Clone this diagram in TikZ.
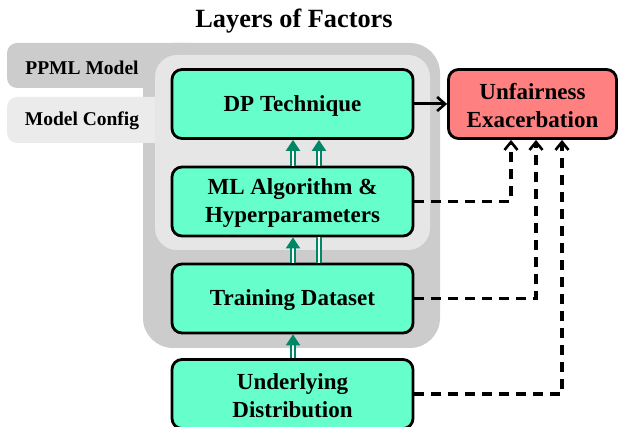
\documentclass[tikz,border=0pt]{standalone}
\usepackage{fontspec}
\setmainfont{Liberation Serif}
\usetikzlibrary{arrows.meta}
\definecolor{boxgreen}{RGB}{102,255,204}
\definecolor{boxred}{RGB}{255,128,128}
\definecolor{darkgray}{RGB}{204,204,204}
\definecolor{lightgray}{RGB}{230,230,230}
\definecolor{tabgray}{RGB}{235,235,235}
\definecolor{arrowgreen}{RGB}{0,136,102}
\begin{document}
\begin{tikzpicture}[x=1pt,y=-1pt,
  factor/.style={draw=black,line width=2.8pt,rounded corners=10pt,fill=boxgreen,minimum width=241pt,minimum height=69pt,inner sep=0pt},
  boxtext/.style={align=center,font=\fontsize{23}{28}\selectfont\bfseries,inner sep=0pt,yshift=-2pt},
  outcome/.style={factor,fill=boxred,minimum width=168pt},
  dbl/.style={double=white,double distance=2pt,line width=2pt,draw=arrowgreen},
  dblarrow/.style={dbl,-{Triangle[length=11pt,width=14pt,fill=arrowgreen]}},
  dashlink/.style={line width=3.2pt,dash pattern=on 10pt off 7pt,-{Straight Barb[length=8pt,width=13pt,line width=2.6pt]}},
  tablabel/.style={font=\fontsize{19.5}{23}\selectfont\bfseries}]
\useasboundingbox (0,0) rectangle (621,427);
% dark gray layer
\fill[darkgray,rounded corners=10pt] (7,43) rectangle (200,88);
\fill[darkgray,rounded corners=30pt] (143,43) rectangle (440,348);
% light gray layer
\fill[tabgray,rounded corners=10pt] (7,97) rectangle (200,143);
\fill[lightgray,rounded corners=22pt] (155,55) rectangle (430,250);
\node[tablabel] (ppml) at (82,68) {PPML Model};
\node[tablabel] (cfg) at (82,121) {Model Config};
\node[font=\fontsize{26.3}{31}\selectfont\bfseries] (title) at (294,21) {Layers of Factors};
% boxes
\node[factor] (dp) at (292.5,104) {};
\node[boxtext] (dpt) at (dp.center) {DP Technique};
\node[factor] (ml) at (292.5,201.5) {};
\node[boxtext] (mlt) at (ml.center) {ML Algorithm \&\\Hyperparameters};
\node[factor] (td) at (292.5,298.5) {};
\node[boxtext] (tdt) at (td.center) {Training Dataset};
\node[factor] (ud) at (292.5,394) {};
\node[boxtext] (udt) at (ud.center) {Underlying\\Distribution};
\node[outcome] (uf) at (532.5,104) {};
\node[boxtext] (uft) at (uf.center) {Unfairness\\Exacerbation};
% green double arrows
\draw[dblarrow] (ml.north -| 293,0) -- (dp.south -| 293,0);
\draw[dblarrow] (ml.north -| 319,0) -- (dp.south -| 319,0);
\draw[dblarrow] (td.north -| 293,0) -- (ml.south -| 293,0);
\draw[dbl] (td.north -| 319,0) -- (ml.south -| 319,0);
\draw[dblarrow] (ud.north -| 293,0) -- (td.south -| 293,0);
% solid arrow
\draw[line width=3pt,-{Straight Barb[length=8pt,width=14pt,line width=2.6pt]}] (dp.east) -- (uf.west);
% dashed links
\draw[dashlink] (ml.east) -| (uf.south -| 511,0);
\draw[dashlink] (td.east) -| (uf.south -| 536,0);
\draw[dashlink] (ud.east) -| (uf.south -| 562,0);
\end{tikzpicture}
\end{document}
